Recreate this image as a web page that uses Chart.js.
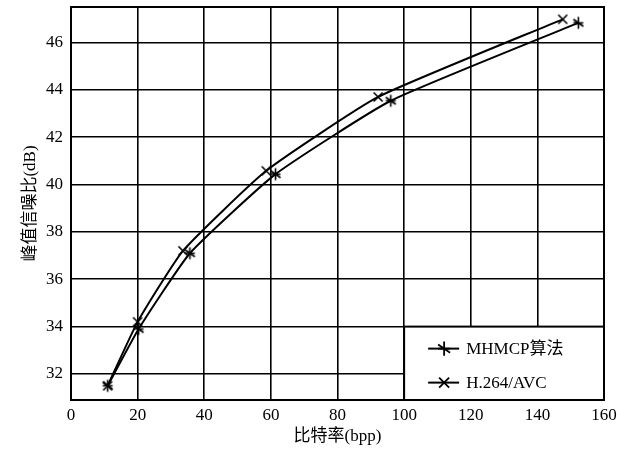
<!DOCTYPE html>
<html>
<head>
<meta charset="utf-8">
<script src="https://cdn.jsdelivr.net/npm/chart.js@4.4.0/dist/chart.umd.min.js"></script>
<style>
  html, body { margin: 0; padding: 0; background: #fff; }
</style>
</head>
<body>
<canvas id="grafica" width="617" height="453"></canvas>
<script>
// datos
const etiquetaX = '比特率(bpp)';
const etiquetaY = '峰值信噪比(dB)';
const ticksX = [0, 20, 40, 60, 80, 100, 120, 140, 160];
const ticksY = [32, 34, 36, 38, 40, 42, 44, 46];

const nombreMHMCP = 'MHMCP算法';
const bitrateMHMCP = [11, 20.3, 35.7, 61.4, 96, 152.3];
const psnrMHMCP = [31.5, 33.9, 37.1, 40.44, 43.54, 46.83];

const nombreH264 = 'H.264/AVC';
const bitrateH264 = [11, 20, 33.6, 58.6, 92.2, 147.6];
const psnrH264 = [31.5, 34.2, 37.2, 40.58, 43.7, 46.98];

const fuente = "'Liberation Serif', 'Noto Sans CJK SC', serif";

// dibuja la marca: 'x' = aspa, 'star' = cruz con una diagonal
function dibujarMarca(ctx, tipo, cx, cy, r) {
  ctx.beginPath();
  if (tipo === 'x') {
    ctx.moveTo(cx - r, cy - r); ctx.lineTo(cx + r, cy + r);
    ctx.moveTo(cx - r, cy + r); ctx.lineTo(cx + r, cy - r);
  } else {
    ctx.moveTo(cx, cy - r * 1.2); ctx.lineTo(cx, cy + r * 1.2);
    ctx.moveTo(cx - r, cy); ctx.lineTo(cx + r, cy);
    ctx.moveTo(cx - r, cy - r * 0.7); ctx.lineTo(cx + r, cy + r * 0.7);
  }
  ctx.stroke();
}

function crearMarca(tipo, r) {
  const c = document.createElement('canvas');
  const lado = Math.ceil(r * 2.6) + 2;
  c.width = lado; c.height = lado;
  const ctx = c.getContext('2d');
  ctx.strokeStyle = '#000';
  ctx.lineWidth = 1.6;
  dibujarMarca(ctx, tipo, lado / 2, lado / 2, r);
  return c;
}

const marcaMHMCP = crearMarca('star', 5);
const marcaH264 = crearMarca('x', 4.5);

function puntos(xs, ys) {
  return xs.map((x, i) => ({ x, y: ys[i] }));
}

// marco del área de la gráfica y leyenda dentro
const pluginMarco = {
  id: 'marco',
  afterDraw(chart) {
    const { ctx, chartArea } = chart;
    const xs = chart.scales.x, ys = chart.scales.y;
    ctx.save();
    ctx.strokeStyle = '#000';
    ctx.lineWidth = 2;
    ctx.strokeRect(chartArea.left, chartArea.top, chartArea.width, chartArea.height);

    // leyenda
    const x0 = xs.getPixelForValue(100);
    const y0 = ys.getPixelForValue(34);
    ctx.fillStyle = '#fff';
    ctx.fillRect(x0, y0, chartArea.right - x0, chartArea.bottom - y0);
    ctx.strokeRect(x0, y0, chartArea.right - x0, chartArea.bottom - y0);

    const entradas = [
      { texto: nombreMHMCP, tipo: 'star' },
      { texto: nombreH264, tipo: 'x' }
    ];
    ctx.font = '17px ' + fuente;
    ctx.textBaseline = 'middle';
    ctx.textAlign = 'left';
    entradas.forEach((e, i) => {
      const yy = y0 + 22 + i * 34;
      ctx.lineWidth = 2;
      ctx.beginPath();
      ctx.moveTo(x0 + 24, yy);
      ctx.lineTo(x0 + 55, yy);
      ctx.stroke();
      ctx.lineWidth = 1.8;
      dibujarMarca(ctx, e.tipo, x0 + 40, yy, e.tipo === 'x' ? 5 : 6);
      ctx.fillStyle = '#000';
      ctx.fillText(e.texto, x0 + 62, yy + 1);
    });
    ctx.restore();
  }
};

const ctx = document.getElementById('grafica').getContext('2d');
new Chart(ctx, {
  type: 'line',
  data: {
    datasets: [
      {
        label: nombreH264,
        data: puntos(bitrateH264, psnrH264),
        borderColor: '#000',
        borderWidth: 2,
        pointStyle: marcaH264,
        fill: false,
        tension: 0.15
      },
      {
        label: nombreMHMCP,
        data: puntos(bitrateMHMCP, psnrMHMCP),
        borderColor: '#000',
        borderWidth: 2,
        pointStyle: marcaMHMCP,
        fill: false,
        tension: 0.15
      }
    ]
  },
  options: {
    responsive: false,
    animation: false,
    layout: { padding: { top: 7, right: 13, left: 0, bottom: 0 } },
    plugins: {
      legend: { display: false },
      tooltip: { enabled: false }
    },
    scales: {
      x: {
        type: 'linear',
        min: 0,
        max: 160,
        afterBuildTicks: s => { s.ticks = ticksX.map(v => ({ value: v })); },
        afterFit: s => { s.height = 53; s.paddingLeft = 0; s.paddingRight = 0; },
        ticks: { color: '#000', padding: 5, font: { family: fuente, size: 17 } },
        grid: { color: '#000', lineWidth: 1.6, drawTicks: false },
        border: { display: false },
        title: {
          display: true, text: etiquetaX, color: '#000',
          font: { family: fuente, size: 17 },
          padding: { top: 0, bottom: 6 }
        }
      },
      y: {
        type: 'linear',
        min: 30.9,
        max: 47.5,
        afterBuildTicks: s => { s.ticks = ticksY.map(v => ({ value: v })); },
        afterFit: s => { s.width = 71; s.paddingTop = 0; s.paddingBottom = 0; },
        ticks: { color: '#000', padding: 8, font: { family: fuente, size: 17 } },
        grid: { color: '#000', lineWidth: 1.6, drawTicks: false },
        border: { display: false },
        title: {
          display: true, text: etiquetaY, color: '#000',
          font: { family: fuente, size: 17 },
          padding: { top: 20, bottom: 0 }
        }
      }
    }
  },
  plugins: [pluginMarco]
});
</script>
</body>
</html>
